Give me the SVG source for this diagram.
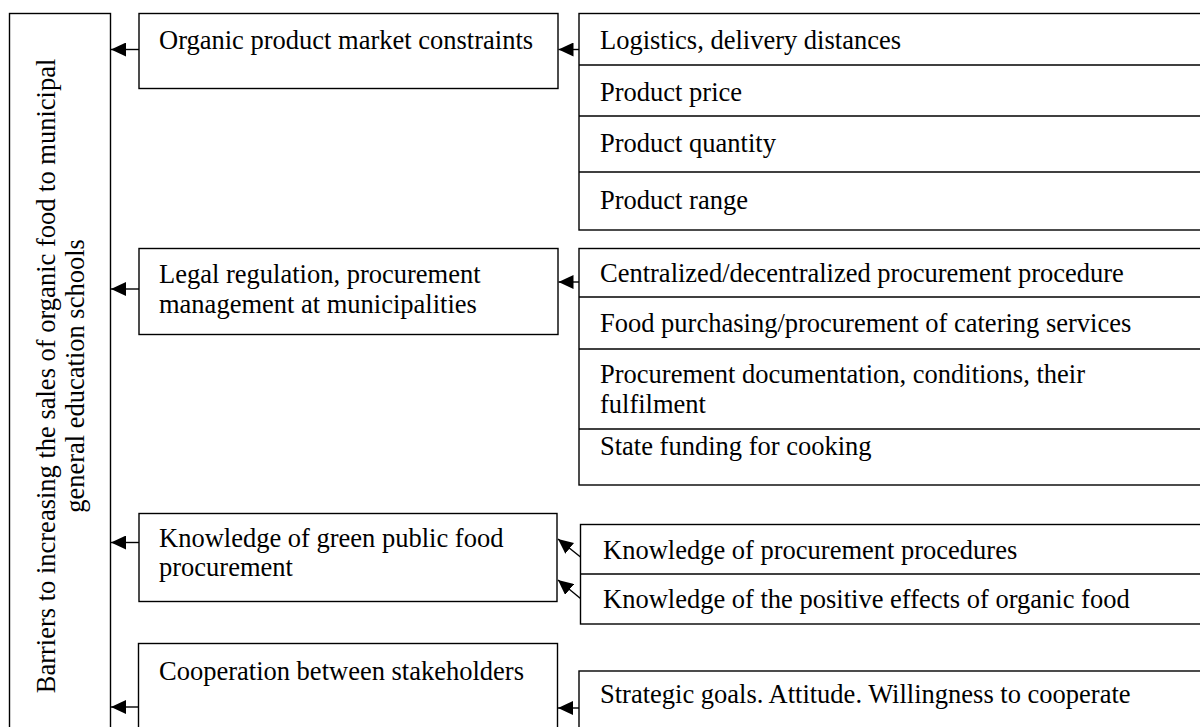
<svg xmlns="http://www.w3.org/2000/svg" width="1200" height="727" viewBox="0 0 1200 727">
  <style>
    .box { fill: #fff; stroke: #000; stroke-width: 1.4; }
    .sep { stroke: #000; stroke-width: 1.4; }
    .lbl { font-family: "Liberation Serif", "Times New Roman", serif; font-size: 26.5px; fill: #000; }
    .link { stroke: #000; stroke-width: 1.4; fill: none; marker-end: url(#head); }
  </style>
  <defs>
    <marker id="head" markerUnits="userSpaceOnUse" markerWidth="16" markerHeight="14" refX="15" refY="7" orient="auto">
      <path d="M0,0 L15,7 L0,14 Z" fill="#000"/>
    </marker>
  </defs>
  <rect width="1200" height="727" fill="#fff"/>

  <!-- Overall barrier category (vertical title) -->
  <g id="barriers">
    <rect class="box" x="9.5" y="13.5" width="101" height="730"/>
    <text class="lbl" transform="translate(55,376) rotate(-90)" text-anchor="middle">Barriers to increasing the sales of organic food to municipal</text>
    <text class="lbl" transform="translate(84,376) rotate(-90)" text-anchor="middle">general education schools</text>
  </g>

  <!-- Category boxes -->
  <g id="market">
    <rect class="box" x="139" y="13.5" width="419" height="75"/>
    <text class="lbl" x="159" y="49">Organic product market constraints</text>
  </g>
  <g id="legal">
    <rect class="box" x="139" y="248.5" width="419" height="86"/>
    <text class="lbl" x="159" y="283">Legal regulation, procurement</text>
    <text class="lbl" x="159" y="312.5">management at municipalities</text>
  </g>
  <g id="knowledge">
    <rect class="box" x="139" y="513.5" width="418" height="88"/>
    <text class="lbl" x="159" y="546.5">Knowledge of green public food</text>
    <text class="lbl" x="159" y="576">procurement</text>
  </g>
  <g id="cooperation">
    <rect class="box" x="138.5" y="643.5" width="419" height="100"/>
    <text class="lbl" x="159" y="680">Cooperation between stakeholders</text>
  </g>

  <!-- Factor tables -->
  <g id="market-factors">
    <rect class="box" x="579" y="13.5" width="640" height="216.5"/>
    <line class="sep" x1="579" y1="65" x2="1220" y2="65"/>
    <line class="sep" x1="579" y1="116" x2="1220" y2="116"/>
    <line class="sep" x1="579" y1="172" x2="1220" y2="172"/>
    <text class="lbl" x="600" y="48.5">Logistics, delivery distances</text>
    <text class="lbl" x="600" y="101">Product price</text>
    <text class="lbl" x="600" y="152">Product quantity</text>
    <text class="lbl" x="600" y="209">Product range</text>
  </g>
  <g id="legal-factors">
    <rect class="box" x="579" y="248.5" width="640" height="236.5"/>
    <line class="sep" x1="579" y1="297" x2="1220" y2="297"/>
    <line class="sep" x1="579" y1="349" x2="1220" y2="349"/>
    <line class="sep" x1="579" y1="429" x2="1220" y2="429"/>
    <text class="lbl" x="600" y="282">Centralized/decentralized procurement procedure</text>
    <text class="lbl" x="600" y="332">Food purchasing/procurement of catering services</text>
    <text class="lbl" x="600" y="383">Procurement documentation, conditions, their</text>
    <text class="lbl" x="600" y="413">fulfilment</text>
    <text class="lbl" x="600" y="455">State funding for cooking</text>
  </g>
  <g id="knowledge-factors">
    <rect class="box" x="580.5" y="524.5" width="640" height="99.5"/>
    <line class="sep" x1="580.5" y1="574" x2="1220" y2="574"/>
    <text class="lbl" x="603" y="559">Knowledge of procurement procedures</text>
    <text class="lbl" x="603" y="608">Knowledge of the positive effects of organic food</text>
  </g>
  <g id="cooperation-factors">
    <rect class="box" x="579" y="671" width="640" height="80"/>
    <text class="lbl" x="600" y="703">Strategic goals. Attitude. Willingness to cooperate</text>
  </g>

  <!-- Connectors -->
  <g id="connectors">
    <line class="link" x1="139" y1="49.5" x2="111" y2="49.5"/>
    <line class="link" x1="139" y1="289" x2="111" y2="289"/>
    <line class="link" x1="139" y1="542.5" x2="111" y2="542.5"/>
    <line class="link" x1="138.5" y1="707" x2="111" y2="707"/>
    <line class="link" x1="579" y1="49.5" x2="558.5" y2="49.5"/>
    <line class="link" x1="579" y1="282" x2="558.5" y2="282"/>
    <line class="link" x1="580.5" y1="557" x2="558" y2="539"/>
    <line class="link" x1="580.5" y1="598.5" x2="558" y2="580"/>
    <line class="link" x1="579" y1="708" x2="558" y2="708"/>
  </g>
</svg>
